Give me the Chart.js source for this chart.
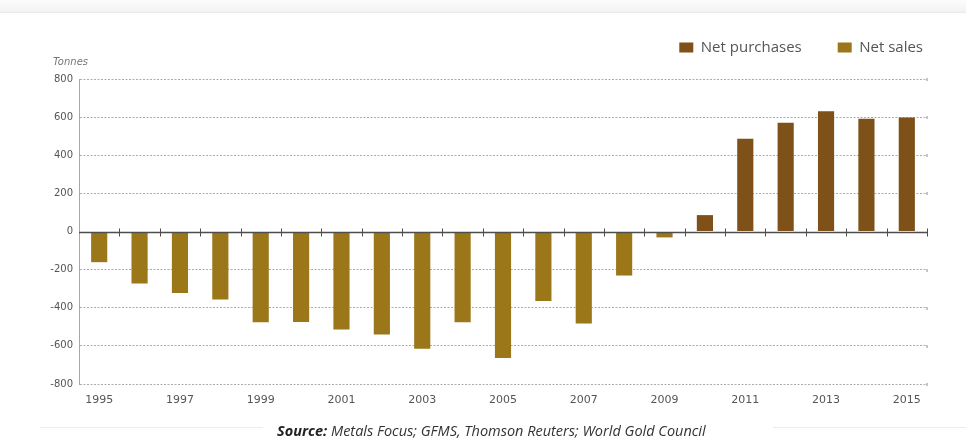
<!DOCTYPE html>
<html>
<head>
<meta charset="utf-8">
<script src="https://cdn.jsdelivr.net/npm/chart.js@4/dist/chart.umd.min.js"></script>
<style>
  html, body { margin: 0; padding: 0; background: #fff; }
  #wrap { position: relative; width: 966px; height: 439px; overflow: hidden; background: #fff; }
  #topband { position: absolute; left: 0; top: 0; width: 966px; height: 12px; background: linear-gradient(#fcfcfc, #f3f3f3); border-bottom: 1px solid #ebebeb; }
  #chart { position: absolute; left: 0; top: 0; }
  #unit { position: absolute; left: 53px; top: 56px; line-height: 12px; font: italic 10px "DejaVu Sans", sans-serif; color: #777; }
  #source { position: absolute; left: 277px; top: 421px; font: italic 14.5px "Open Sans", sans-serif; color: #333; white-space: nowrap; }
  #source b { font-weight: 700; color: #222; }
  .rule { position: absolute; height: 1px; background: #ececec; top: 427px; }
</style>
</head>
<body>
<div id="wrap">
  <div id="topband"></div>
  <canvas id="chart" width="966" height="439"></canvas>
  <div id="unit">Tonnes</div>
  <div class="rule" style="left:40px;width:223px"></div>
  <div class="rule" style="left:773px;width:193px"></div>
  <div id="source"><b>Source:</b> Metals Focus; GFMS, Thomson Reuters; World Gold Council</div>
</div>
<script>
// Central bank gold flows, tonnes per year
const years = ['1995','1996','1997','1998','1999','2000','2001','2002','2003','2004',
               '2005','2006','2007','2008','2009','2010','2011','2012','2013','2014','2015'];
const netPurchases = [null,null,null,null,null,null,null,null,null,null,
                      null,null,null,null,null,86,486,570,631,591,598];
const netSales = [-161,-273,-322,-357,-476,-475,-514,-540,-615,-476,
                  -663,-364,-483,-231,-31,null,null,null,null,null,null];
const yTicks = [-800,-600,-400,-200,0,200,400,600,800];

const purchaseColor = '#7d5118';
const salesColor = '#9b771a';

// leave a gap between the legend row and the plot
const legendGap = {
  id: 'legendGap',
  afterInit(chart) {
    const lg = chart.legend;
    if (!lg) return;
    const fit = lg.fit.bind(lg);
    lg.fit = function () { fit(); this.height += 14; };
  }
};

// zero line with category-boundary ticks, plus small end marks on gridlines
const zeroAxis = {
  id: 'zeroAxis',
  afterDatasetsDraw(chart) {
    const { ctx, chartArea: a, scales: { x, y } } = chart;
    const y0 = Math.round(y.getPixelForValue(0)) + 0.5;
    ctx.save();
    ctx.strokeStyle = '#8a8a8a';
    ctx.lineWidth = 1;
    yTicks.forEach(v => {
      if (v === 0) return;
      const py = Math.round(y.getPixelForValue(v)) + 0.5;
      ctx.beginPath();
      ctx.moveTo(a.right, py - 1.5);
      ctx.lineTo(a.right, py + 1.5);
      ctx.stroke();
    });
    ctx.strokeStyle = '#4d4d4d';
    ctx.lineWidth = 1.3;
    ctx.beginPath();
    ctx.moveTo(a.left, y0);
    ctx.lineTo(a.right, y0);
    ctx.stroke();
    ctx.lineWidth = 1;
    for (let i = 0; i < years.length; i++) {
      const bx = i < years.length - 1
        ? Math.round((x.getPixelForValue(i) + x.getPixelForValue(i + 1)) / 2) + 0.5
        : Math.round(a.right) + 0.5;
      ctx.beginPath();
      ctx.moveTo(bx, y0 - 4);
      ctx.lineTo(bx, y0 + 4);
      ctx.stroke();
    }
    ctx.restore();
  }
};

new Chart(document.getElementById('chart'), {
  type: 'bar',
  data: {
    labels: years,
    datasets: [
      { label: 'Net purchases', data: netPurchases, backgroundColor: purchaseColor },
      { label: 'Net sales', data: netSales, backgroundColor: salesColor }
    ]
  },
  options: {
    responsive: false,
    animation: false,
    layout: { padding: { top: 4, right: 7, bottom: 0, left: 0 } },
    datasets: { bar: { categoryPercentage: 1, barPercentage: 0.4 } },
    plugins: {
      tooltip: { enabled: false },
      legend: {
        position: 'top',
        align: 'end',
        labels: {
          boxWidth: 14,
          boxHeight: 10,
          padding: 36,
          color: '#555',
          font: { family: 'Open Sans', size: 15 }
        }
      }
    },
    scales: {
      x: {
        stacked: true,
        grid: { display: false },
        border: { display: false },
        ticks: {
          autoSkip: false,
          maxRotation: 0,
          padding: 2,
          color: '#555',
          font: { family: 'DejaVu Sans', size: 11 },
          callback: (v, i) => (i % 2 === 0 ? years[i] : '')
        },
        afterFit: s => { s.height = 55; }
      },
      y: {
        stacked: true,
        min: -800,
        max: 800,
        afterBuildTicks: s => { s.ticks = yTicks.map(v => ({ value: v })); },
        grid: {
          color: c => (c.tick && c.tick.value === 0 ? 'rgba(0,0,0,0)' : '#ababab'),
          lineWidth: 1,
          drawTicks: false
        },
        border: { display: true, color: '#a8a8a8', width: 1, dash: [2, 1.5] },
        ticks: {
          padding: 6,
          color: '#555',
          font: { family: 'DejaVu Sans', size: 10 }
        },
        afterFit: s => { s.width = 79; }
      },
      // empty right-hand margin so the plot ends short of the legend edge
      yRight: {
        position: 'right',
        display: true,
        grid: { display: false },
        border: { display: false },
        ticks: { display: false },
        afterFit: s => { s.width = 32; }
      }
    }
  },
  plugins: [legendGap, zeroAxis]
});
</script>
</body>
</html>
